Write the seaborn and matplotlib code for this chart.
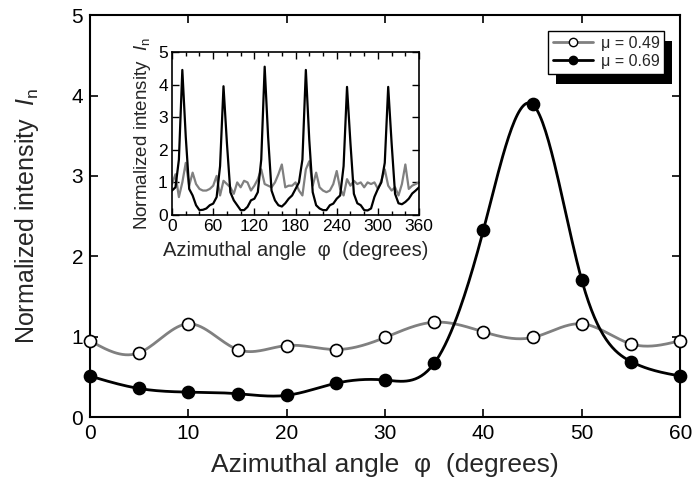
import numpy as np
import pandas as pd
import seaborn as sns
import matplotlib.pyplot as plt
from matplotlib.lines import Line2D
from matplotlib.patches import Rectangle
from matplotlib.transforms import IdentityTransform

# main panel data (every 5 degrees)
angle = [0, 5, 10, 15, 20, 25, 30, 35, 40, 45, 50, 55, 60]
mu_049 = [0.95, 0.80, 1.16, 0.84, 0.89, 0.84, 0.99, 1.18, 1.06, 0.99, 1.16, 0.91, 0.95]
mu_069 = [0.51, 0.355, 0.31, 0.29, 0.27, 0.42, 0.46, 0.67, 2.33, 3.89, 1.70, 0.69, 0.51]

# inset data, 0..360 every 5 degrees
inset_angle = list(range(0, 365, 5))
inset_049 = [0.95, 1.25, 0.55, 1.0, 1.6, 0.9, 1.3, 0.95, 0.8, 0.75, 0.75, 0.8, 0.9,
             1.2, 0.6, 1.05, 0.95, 0.85, 0.65, 1.0, 0.85, 1.05, 1.0, 0.75, 0.9,
             1.1, 1.4, 0.95, 0.9, 0.85, 1.0, 1.25, 1.55, 0.85, 0.9, 0.9, 1.0,
             0.75, 0.6, 1.4, 1.65, 0.9, 1.3, 0.85, 0.75, 0.7, 0.75, 0.95, 1.35,
             0.8, 0.6, 1.1, 0.9, 1.05, 0.95, 1.0, 0.85, 1.0, 0.95, 1.0, 0.8,
             1.05, 1.4, 0.9, 0.75, 0.85, 0.6, 0.95, 1.55, 0.8, 0.9, 0.95, 1.0]
inset_069 = [0.75, 0.85, 1.7, 4.45, 2.4, 0.8, 0.6, 0.3, 0.15, 0.16, 0.2, 0.3, 0.35,
             0.55, 1.5, 3.95, 2.2, 0.7, 0.45, 0.3, 0.15, 0.15, 0.25, 0.45, 0.5,
             0.7, 1.7, 4.55, 2.4, 0.75, 0.45, 0.3, 0.26, 0.36, 0.5, 0.6, 0.8,
             1.0, 1.7, 4.45, 2.3, 0.7, 0.3, 0.2, 0.15, 0.15, 0.3, 0.35, 0.5,
             0.6, 1.5, 3.93, 2.2, 0.65, 0.36, 0.3, 0.15, 0.14, 0.2, 0.56, 0.8,
             1.0, 1.6, 3.93, 2.2, 0.65, 0.36, 0.33, 0.4, 0.5, 0.66, 0.75, 0.85]


# natural cubic spline, only used to draw the smooth connecting curve
def spline(x, y, n=400):
    x = np.asarray(x, float)
    y = np.asarray(y, float)
    k = len(x)
    h = np.diff(x)
    A = np.zeros((k, k))
    b = np.zeros(k)
    A[0, 0] = A[-1, -1] = 1
    for i in range(1, k - 1):
        A[i, i - 1] = h[i - 1]
        A[i, i] = 2 * (h[i - 1] + h[i])
        A[i, i + 1] = h[i]
        b[i] = 6 * ((y[i + 1] - y[i]) / h[i] - (y[i] - y[i - 1]) / h[i - 1])
    M = np.linalg.solve(A, b)
    xs = np.linspace(x[0], x[-1], n)
    idx = np.clip(np.searchsorted(x, xs) - 1, 0, k - 2)
    x0, x1 = x[idx], x[idx + 1]
    hh = x1 - x0
    t0, t1 = x1 - xs, xs - x0
    ys = (M[idx] * t0 ** 3 + M[idx + 1] * t1 ** 3) / (6 * hh) \
        + (y[idx] / hh - M[idx] * hh / 6) * t0 + (y[idx + 1] / hh - M[idx + 1] * hh / 6) * t1
    return xs, ys


sns.set_theme(style="ticks")
plt.rcParams['font.family'] = ['Liberation Sans', 'DejaVu Sans']
plt.rcParams['mathtext.fontset'] = 'custom'
plt.rcParams['mathtext.rm'] = 'Liberation Sans'
plt.rcParams['mathtext.it'] = 'Liberation Sans:italic'
plt.rcParams['xtick.direction'] = 'in'
plt.rcParams['ytick.direction'] = 'in'

gray = '#808080'

fig = plt.figure(figsize=(6.92, 4.87), dpi=100)
ax = fig.add_axes([0.130, 0.1437, 0.853, 0.825])

xs, ys = spline(angle, mu_049)
sns.lineplot(x=xs, y=ys, ax=ax, color=gray, lw=2, zorder=2)
xs, ys = spline(angle, mu_069)
sns.lineplot(x=xs, y=ys, ax=ax, color='black', lw=2, zorder=2)
sns.scatterplot(x=angle, y=mu_049, ax=ax, color='white', edgecolor='black', linewidth=1.2,
                s=75, zorder=3, clip_on=False)
sns.scatterplot(x=angle, y=mu_069, ax=ax, color='black', edgecolor='black', linewidth=1.2,
                s=75, zorder=3, clip_on=False)

ax.set_xlim(0, 60)
ax.set_ylim(0, 5)
ax.set_xticks(range(0, 61, 10))
ax.set_yticks(range(0, 6))
ax.tick_params(which='both', top=True, right=True, length=6, width=1.2, labelsize=15,
               colors='black', pad=5)
for s in ax.spines.values():
    s.set_linewidth(1.5)
    s.set_color('black')
ax.set_xlabel('Azimuthal angle  φ  (degrees)', fontsize=19, labelpad=7)
ax.set_ylabel(r'Normalized intensity  $\mathit{I}_{\mathrm{n}}$', fontsize=18, labelpad=22)

handles = [
    Line2D([], [], color=gray, lw=2, marker='o', markerfacecolor='white',
           markeredgecolor='black', markersize=6),
    Line2D([], [], color='black', lw=2, marker='o', markerfacecolor='black',
           markeredgecolor='black', markersize=6),
]
leg = ax.legend(handles, ['μ = 0.49', 'μ = 0.69'], loc='upper right',
                bbox_to_anchor=(0.973, 0.961), borderaxespad=0, fontsize=11.5, frameon=True,
                fancybox=False, framealpha=1, handlelength=2.5, handletextpad=0.5,
                borderpad=0.3, labelspacing=0.2)
leg.get_frame().set_edgecolor('black')
leg.get_frame().set_linewidth(1.0)
leg.set_zorder(6)

# inset
ins = fig.add_axes([0.2486, 0.5585, 0.357, 0.3347])
sns.lineplot(x=inset_angle, y=inset_049, ax=ins, color=gray, lw=1.6)
sns.lineplot(x=inset_angle, y=inset_069, ax=ins, color='black', lw=1.6)
ins.set_xlim(0, 360)
ins.set_ylim(0, 5)
ins.set_xticks(range(0, 361, 60))
ins.set_xticks(range(0, 361, 20), minor=True)
ins.set_yticks(range(0, 6))
ins.tick_params(which='both', top=True, right=True, width=1, colors='black', labelsize=12.5, pad=3)
ins.tick_params(which='major', length=5)
ins.tick_params(which='minor', length=3)
for s in ins.spines.values():
    s.set_linewidth(1.2)
    s.set_color('black')
ins.set_xlabel('Azimuthal angle  φ  (degrees)', fontsize=14.5, labelpad=5)
ins.set_ylabel(r'Normalized intensity  $\mathit{I}_{\mathrm{n}}$', fontsize=13.5, labelpad=4)

# hard black shadow behind the legend
fig.canvas.draw()
bb = leg.get_window_extent()
shadow = Rectangle((bb.x0 + 8, bb.y0 - 10), bb.width, bb.height, transform=IdentityTransform(),
                   facecolor='black', edgecolor='none', zorder=5.5, clip_on=False)
ax.add_artist(shadow)

fig.savefig('out.png', dpi=100)
